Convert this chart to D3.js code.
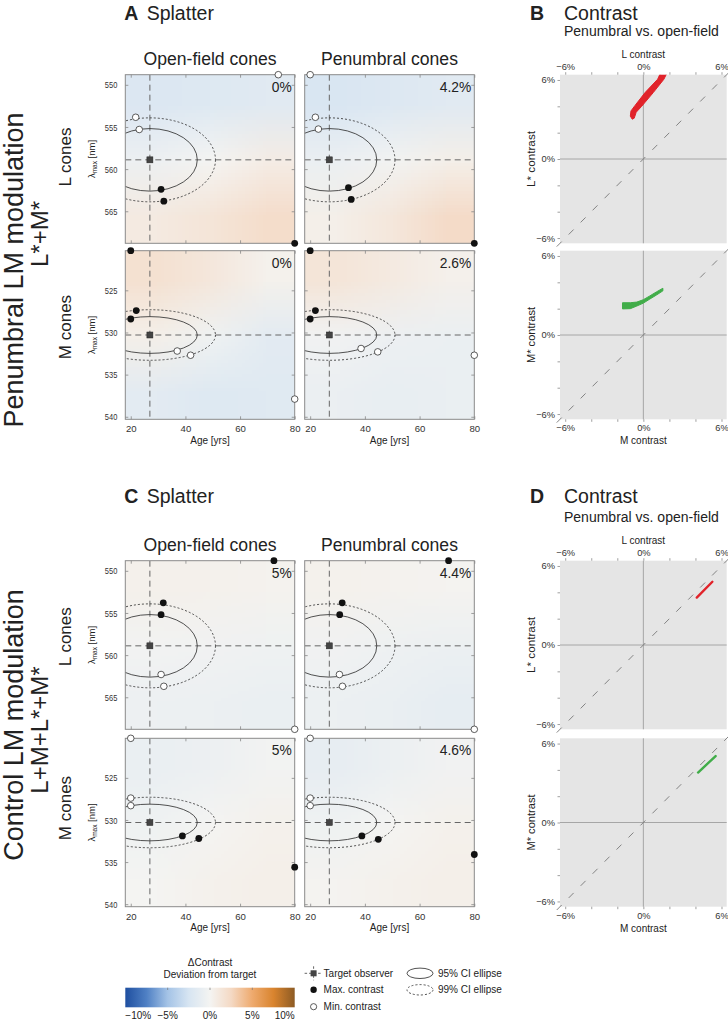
<!DOCTYPE html>
<html><head><meta charset="utf-8">
<script src="https://cdn.jsdelivr.net/npm/d3@7"></script>
<style>
body{margin:0;background:#fff}
svg text{font-family:"Liberation Sans",Arial,Helvetica,sans-serif}
</style>
</head><body>
<script>
// ---------------- DATA ----------------
const ageTicks = [20, 40, 60, 80];
const lTicks = [550, 555, 560, 565];
const mTicks = [525, 530, 535, 540];
const ageDomain = [18, 80];
const lDomain = [548.8, 568.8];
const mDomain = [520.3, 540.3];
const contrastDomain = [-6.4, 6.4];
const contrastTicks = [-6, -4, -2, 0, 2, 4, 6];
const contrastLabelTicks = [-6, 0, 6];
const colorbarTicks = [-10, -5, 0, 5, 10];
const colorStops = [-10, -7.5, -5, -2.5, 0, 2.5, 5, 7.5, 10];
const colorHex = ["#1f4fa0", "#4f80c4", "#a4c3e6", "#d7e5f2", "#f4f4f2", "#f4d9c4", "#eeaa6e", "#d9842e", "#8d5b24"];

const targetAge = 27;
const targetL = 558.9;
const targetM = 530.3;
const ci95 = {age: 17.35, L: 3.71, M: 2.18};
const ci99 = {age: 24.0, L: 4.98, M: 3.0};

// panels: 0 A-L-open, 1 A-L-pen, 2 A-M-open, 3 A-M-pen, 4 C-L-open, 5 C-L-pen, 6 C-M-open, 7 C-M-pen
const panelCone = ["L", "L", "M", "M", "L", "L", "M", "M"];
const pctLabels = ["0%", "4.2%", "0%", "2.6%", "5%", "4.4%", "5%", "4.6%"];
const maxPts = [
  [[31.1, 562.4], [32.1, 563.8], [80, 568.8]],
  [[34.0, 562.2], [35.0, 563.6], [80, 568.8]],
  [[20, 520.3], [22.0, 527.4], [20, 528.4]],
  [[20, 520.3], [21.9, 527.4], [20, 528.4]],
  [[72.4, 548.8], [31.9, 553.8], [31.1, 555.2]],
  [[70.6, 548.8], [31.7, 553.8], [30.8, 555.2]],
  [[38.9, 531.9], [44.9, 532.2], [80, 535.6]],
  [[38.9, 531.9], [44.9, 532.3], [80, 534.1]]
];
const minPts = [
  [[74.0, 548.8], [21.8, 553.85], [23.1, 555.3]],
  [[20, 548.8], [21.9, 553.85], [23.0, 555.25]],
  [[37.0, 532.2], [41.9, 532.7], [80, 537.9]],
  [[38.6, 531.9], [44.7, 532.3], [80, 532.7]],
  [[31.1, 562.3], [32.1, 563.7], [80, 568.8]],
  [[30.7, 562.3], [31.8, 563.7], [80, 568.8]],
  [[20, 520.3], [20, 527.4], [20, 528.3]],
  [[20, 520.3], [20, 527.4], [20, 528.3]]
];
// deviation-from-target grids (rows top->bottom, cols left->right), % contrast
const heatGrids = [
  [[-2.1, -1.9, -1.6], [-0.6, 0.0, 0.7], [0.9, 1.4, 2.1]],
  [[-2.3, -2.0, -1.6], [-0.8, -0.2, 0.5], [0.5, 1.2, 2.3]],
  [[1.8, 1.2, 0.3], [0.5, -0.4, -1.5], [-1.5, -1.9, -1.7]],
  [[1.4, 0.9, 0.4], [-0.3, -0.6, -0.8], [-0.8, -1.0, -0.9]],
  [[0.4, 0.3, 0.2], [-0.2, -0.3, -0.4], [-0.6, -0.7, -0.9]],
  [[0.3, 0.2, 0.1], [-0.3, -0.5, -0.7], [-0.7, -0.9, -1.2]],
  [[-0.9, -0.6, -0.2], [-0.4, 0.0, 0.3], [0.0, 0.3, 0.5]],
  [[-1.1, -0.7, -0.3], [-0.4, 0.0, 0.3], [0.1, 0.3, 0.5]]
];
// contrast scatter regions (open-field contrast %, penumbral contrast %)
const redB_edge1 = [[-1.0, 3.25], [-0.95, 3.65], [-0.65, 4.05], [0.13, 5.04], [1.1, 6.06], [1.35, 6.6]];
const redB_edge2 = [[-0.7, 3.1], [-0.55, 3.55], [-0.13, 4.0], [0.76, 5.04], [1.58, 6.06], [1.85, 6.6]];
const greenB_upper = [[-1.6, 2.45], [-1.0, 2.45], [-0.5, 2.5], [0.0, 2.68], [0.5, 2.97], [1.0, 3.27], [1.5, 3.55]];
const greenB_lower = [[-1.6, 1.98], [-1.0, 2.0], [-0.5, 2.2], [0.0, 2.42], [0.5, 2.73], [1.0, 3.03], [1.5, 3.35]];
const redD = [[4.1, 3.6], [5.3, 4.8]];
const greenD = [[4.2, 3.8], [5.55, 5.05]];

// ---------------- LAYOUT ----------------
const W = 728, H = 1020;
const svg = d3.select("body").append("svg").attr("width", W).attr("height", H);
const colX = [[125.3, 294.7], [304.7, 474.3]];
const sectionRows = [[[74.7, 243.3], [250.7, 419.3]], [[560.7, 729.3], [738.3, 906.7]]];
const cX = [560, 726.7];
const TXT = "#222", TICK = "#888";

const color = d3.scaleLinear().domain(colorStops).range(colorHex).clamp(true);
const fmtC = d => d === 0 ? "0%" : (d < 0 ? "\u2212" + (-d) + "%" : d + "%");
let clipId = 0;

function styleAxis(g, fs) {
  g.attr("font-family", null).attr("font-size", null);
  g.select(".domain").remove();
  g.selectAll(".tick line").attr("stroke", TICK).attr("stroke-width", 0.8);
  g.selectAll(".tick text").attr("fill", "#333").attr("font-size", fs);
}

function splatterPanel(p, x0, x1, y0, y1, showY, showX) {
  const cone = panelCone[p];
  const x = d3.scaleLinear().domain(ageDomain).range([x0, x1]);
  const y = d3.scaleLinear().domain(cone === "L" ? lDomain : mDomain).range([y0, y1]);
  const tgt = cone === "L" ? targetL : targetM;
  const g = svg.append("g");
  const id = "clip" + (clipId++);
  svg.append("clipPath").attr("id", id).append("rect")
    .attr("x", x0).attr("y", y0).attr("width", x1 - x0).attr("height", y1 - y0);

  // heatmap from grid
  const grid = heatGrids[p];
  const cv = document.createElement("canvas");
  cv.width = grid[0].length; cv.height = grid.length;
  const ctx = cv.getContext("2d");
  grid.forEach((row, r) => row.forEach((v, c) => { ctx.fillStyle = color(v); ctx.fillRect(c, r, 1, 1); }));
  g.append("image").attr("href", cv.toDataURL()).attr("x", x0).attr("y", y0)
    .attr("width", x1 - x0).attr("height", y1 - y0).attr("preserveAspectRatio", "none")
    .style("image-rendering", "auto");

  const inner = g.append("g").attr("clip-path", `url(#${id})`);
  inner.append("line").attr("x1", x(targetAge)).attr("x2", x(targetAge)).attr("y1", y0).attr("y2", y1)
    .attr("stroke", "#666").attr("stroke-width", 1).attr("stroke-dasharray", "6,4");
  inner.append("line").attr("x1", x0).attr("x2", x1).attr("y1", y(tgt)).attr("y2", y(tgt))
    .attr("stroke", "#666").attr("stroke-width", 1).attr("stroke-dasharray", "6,4");
  [[ci95, null], [ci99, "2,2"]].forEach(([ci, dash]) => {
    inner.append("ellipse").attr("cx", x(targetAge)).attr("cy", y(tgt))
      .attr("rx", x(targetAge + ci.age) - x(targetAge)).attr("ry", y(tgt + ci[cone]) - y(tgt))
      .attr("fill", "none").attr("stroke", "#333").attr("stroke-width", 0.85)
      .attr("stroke-dasharray", dash);
  });

  g.append("rect").attr("x", x0).attr("y", y0).attr("width", x1 - x0).attr("height", y1 - y0)
    .attr("fill", "none").attr("stroke", "#8a8a8a").attr("stroke-width", 1);

  const ticks = cone === "L" ? lTicks : mTicks;
  const aL = g.append("g").attr("transform", `translate(${x0},0)`)
    .call(d3.axisLeft(y).tickValues(ticks).tickSize(-3).tickPadding(8).tickFormat(showY ? d3.format("d") : ""));
  styleAxis(aL, 9.5);
  if (showY) aL.selectAll(".tick text").attr("textLength", 12.5).attr("lengthAdjust", "spacingAndGlyphs");
  styleAxis(g.append("g").attr("transform", `translate(${x1},0)`)
    .call(d3.axisRight(y).tickValues(ticks).tickSize(-3).tickFormat("")), 9.5);
  styleAxis(g.append("g").attr("transform", `translate(0,${y0})`)
    .call(d3.axisTop(x).tickValues(ageTicks).tickSize(-3).tickFormat("")), 9.5);
  styleAxis(g.append("g").attr("transform", `translate(0,${y1})`)
    .call(d3.axisBottom(x).tickValues(ageTicks).tickSize(-3).tickPadding(6).tickFormat(showX ? d3.format("d") : "")), 9.6);
  if (showX) {
    g.append("text").attr("x", (x0 + x1) / 2).attr("y", y1 + 24.5).attr("text-anchor", "middle")
      .attr("font-size", 10).attr("fill", TXT).text("Age [yrs]");
  }

  // markers
  g.append("rect").attr("x", x(targetAge) - 3).attr("y", y(tgt) - 3).attr("width", 6).attr("height", 6)
    .attr("fill", "#444").attr("stroke", "#222").attr("stroke-width", 0.5);
  g.selectAll(null).data(maxPts[p]).enter().append("circle")
    .attr("cx", d => x(d[0])).attr("cy", d => y(d[1])).attr("r", 3.4).attr("fill", "#111");
  g.selectAll(null).data(minPts[p]).enter().append("circle")
    .attr("cx", d => x(d[0])).attr("cy", d => y(d[1])).attr("r", 3.3).attr("fill", "#fff")
    .attr("stroke", "#333").attr("stroke-width", 0.8);

  g.append("text").attr("x", x1 - 3).attr("y", y0 + 17).attr("text-anchor", "end")
    .attr("font-size", 13.8).attr("fill", TXT).text(pctLabels[p]);
}

function contrastPanel(y0, y1, isTop, xTitle, yTitle, drawMarks) {
  const x = d3.scaleLinear().domain(contrastDomain).range(cX);
  const y = d3.scaleLinear().domain(contrastDomain).range([y1, y0]);
  const g = svg.append("g");
  const id = "clip" + (clipId++);
  svg.append("clipPath").attr("id", id).append("rect")
    .attr("x", cX[0]).attr("y", y0).attr("width", cX[1] - cX[0]).attr("height", y1 - y0);
  g.append("rect").attr("x", cX[0]).attr("y", y0).attr("width", cX[1] - cX[0]).attr("height", y1 - y0)
    .attr("fill", "#e5e5e5");
  g.append("line").attr("x1", x(0)).attr("x2", x(0)).attr("y1", y0).attr("y2", y1)
    .attr("stroke", "#a6a6a6").attr("stroke-width", 1);
  g.append("line").attr("x1", cX[0]).attr("x2", cX[1]).attr("y1", y(0)).attr("y2", y(0))
    .attr("stroke", "#a6a6a6").attr("stroke-width", 1);
  g.append("line").attr("x1", x(-6.65)).attr("y1", y(-6.65)).attr("x2", x(6.65)).attr("y2", y(6.65))
    .attr("stroke", "#777").attr("stroke-width", 0.9).attr("stroke-dasharray", "7,10");
  drawMarks(g.append("g").attr("clip-path", `url(#${id})`), x, y);

  styleAxis(g.append("g").attr("transform", `translate(${cX[0]},0)`)
    .call(d3.axisLeft(y).tickValues(contrastTicks).tickSize(2.5).tickPadding(2.5)
      .tickFormat(d => contrastLabelTicks.includes(d) ? fmtC(d) : "")), 9.3);
  if (isTop) {
    styleAxis(g.append("g").attr("transform", `translate(0,${y0})`)
      .call(d3.axisTop(x).tickValues(contrastTicks).tickSize(2.5).tickPadding(2.5)
        .tickFormat(d => contrastLabelTicks.includes(d) ? fmtC(d) : "")), 9.3);
    g.append("text").attr("x", x(0)).attr("y", y0 - 17).attr("text-anchor", "middle")
      .attr("font-size", 10).attr("fill", TXT).text(xTitle);
  } else {
    styleAxis(g.append("g").attr("transform", `translate(0,${y1})`)
      .call(d3.axisBottom(x).tickValues(contrastTicks).tickSize(2.5).tickPadding(3)
        .tickFormat(d => contrastLabelTicks.includes(d) ? fmtC(d) : "")), 9.3);
    g.append("text").attr("x", x(0)).attr("y", y1 + 24.8).attr("text-anchor", "middle")
      .attr("font-size", 10).attr("fill", TXT).text(xTitle);
  }
  g.append("text").attr("transform", `translate(535,${(y0 + y1) / 2}) rotate(-90)`)
    .attr("text-anchor", "middle").attr("font-size", 10.5).attr("fill", TXT)
    .attr("textLength", 56).attr("lengthAdjust", "spacingAndGlyphs").text(yTitle);
}

function rotText(x, y, size, parts) {
  const t = svg.append("text").attr("transform", `translate(${x},${y}) rotate(-90)`)
    .attr("text-anchor", "middle").attr("font-size", size).attr("fill", TXT);
  parts.forEach(pt => {
    const s = t.append("tspan").text(pt.t);
    if (pt.dy) s.attr("dy", pt.dy);
    if (pt.fs) s.attr("font-size", pt.fs);
  });
  return t;
}

// ---------------- DRAW ----------------
const sectionTitles = [["A", "Splatter", 19.5], ["C", "Splatter", 503]];
const contrastTitles = [["B", "Contrast", 19.5, 35.5], ["D", "Contrast", 503, 522]];
const rowLabelsBig = [["Penumbral LM modulation", 270, [{t: "L*+M*"}], 234],
                      ["Control LM modulation", 725, [{t: "L+M+L*+M*"}], 730]];
const coneLabelY = [[157, 327], [636.7, 808]];

sectionRows.forEach((rows, s) => {
  const top = rows[0][0];
  const tt = svg.append("text").attr("x", 124.3).attr("y", sectionTitles[s][2]).attr("font-size", 19.5).attr("fill", TXT);
  tt.append("tspan").attr("font-weight", "bold").text(sectionTitles[s][0]);
  tt.append("tspan").attr("x", 146.7).text(sectionTitles[s][1]);
  const ct = svg.append("text").attr("x", 530).attr("y", contrastTitles[s][2]).attr("font-size", 19.5).attr("fill", TXT);
  ct.append("tspan").attr("font-weight", "bold").text(contrastTitles[s][0]);
  ct.append("tspan").attr("x", 564).text(contrastTitles[s][1]);
  svg.append("text").attr("x", 564).attr("y", contrastTitles[s][3]).attr("font-size", 14).attr("fill", TXT)
    .text("Penumbral vs. open-field");
  ["Open-field cones", "Penumbral cones"].forEach((c, i) => {
    svg.append("text").attr("x", (colX[i][0] + colX[i][1]) / 2).attr("y", top - 10).attr("text-anchor", "middle")
      .attr("font-size", 17.6).attr("fill", TXT).text(c);
  });
  rotText(23, rowLabelsBig[s][1], 27, [{t: rowLabelsBig[s][0]}]);
  rotText(48, rowLabelsBig[s][3], 24, rowLabelsBig[s][2]);
  ["L cones", "M cones"].forEach((c, r) => {
    rotText(70.5, coneLabelY[s][r], 17, [{t: c}]);
    rotText(94.5, (rows[r][0] + rows[r][1]) / 2, 9.5,
      [{t: "\u03bb"}, {t: "max", dy: 2, fs: 6.5}, {t: " [nm]", dy: -2, fs: 9.5}]);
  });
  rows.forEach((ry, r) => {
    colX.forEach((cx, c) => {
      const p = s * 4 + r * 2 + c;
      splatterPanel(p, cx[0], cx[1], ry[0], ry[1], c === 0, r === 1);
    });
  });
});

const redCol = "#e1232a", greenCol = "#41ad49";
contrastPanel(sectionRows[0][0][0], sectionRows[0][0][1], true, "L contrast", "L* contrast", (g, x, y) => {
  const poly = redB_edge1.concat(redB_edge2.slice().reverse()).concat([[-0.85, 3.02]]);
  g.append("path").attr("d", d3.line().x(d => x(d[0])).y(d => y(d[1])).curve(d3.curveLinearClosed)(poly))
    .attr("fill", redCol).attr("stroke", redCol).attr("stroke-width", 1).attr("stroke-linejoin", "round");
});
contrastPanel(sectionRows[0][1][0], sectionRows[0][1][1], false, "M contrast", "M* contrast", (g, x, y) => {
  const poly = greenB_upper.concat(greenB_lower.slice().reverse());
  g.append("path").attr("d", d3.line().x(d => x(d[0])).y(d => y(d[1])).curve(d3.curveLinearClosed)(poly))
    .attr("fill", greenCol).attr("stroke", greenCol).attr("stroke-width", 1).attr("stroke-linejoin", "round");
});
contrastPanel(sectionRows[1][0][0], sectionRows[1][0][1], true, "L contrast", "L* contrast", (g, x, y) => {
  g.append("path").attr("d", d3.line().x(d => x(d[0])).y(d => y(d[1]))(redD))
    .attr("fill", "none").attr("stroke", redCol).attr("stroke-width", 2.4).attr("stroke-linecap", "round");
});
contrastPanel(sectionRows[1][1][0], sectionRows[1][1][1], false, "M contrast", "M* contrast", (g, x, y) => {
  g.append("path").attr("d", d3.line().x(d => x(d[0])).y(d => y(d[1]))(greenD))
    .attr("fill", "none").attr("stroke", greenCol).attr("stroke-width", 2.4).attr("stroke-linecap", "round");
});

// ---------------- LEGEND ----------------
const cb = d3.scaleLinear().domain([-10, 10]).range([125.3, 294.7]);
const grad = svg.append("defs").append("linearGradient").attr("id", "cbgrad");
colorStops.forEach((v, i) => grad.append("stop").attr("offset", ((v + 10) / 20 * 100) + "%").attr("stop-color", colorHex[i]));
svg.append("rect").attr("x", cb(-10)).attr("y", 987.7).attr("width", cb(10) - cb(-10)).attr("height", 19.6)
  .attr("fill", "url(#cbgrad)");
svg.selectAll(null).data(colorbarTicks.slice(1, -1)).enter().append("line")
  .attr("x1", d => cb(d)).attr("x2", d => cb(d)).attr("y1", 987.7).attr("y2", 990)
  .attr("stroke", "#777").attr("stroke-width", 0.7);
svg.selectAll(null).data(colorbarTicks).enter().append("text")
  .attr("x", d => cb(d)).attr("y", 1018.5)
  .attr("text-anchor", (d, i) => i === 0 ? "start" : (i === colorbarTicks.length - 1 ? "end" : "middle"))
  .attr("font-size", 10).attr("fill", TXT).text(d => fmtC(d));
svg.append("text").attr("x", 210).attr("y", 966).attr("text-anchor", "middle").attr("font-size", 10)
  .attr("fill", TXT).text("\u0394Contrast");
svg.append("text").attr("x", 210).attr("y", 978).attr("text-anchor", "middle").attr("font-size", 10)
  .attr("fill", TXT).text("Deviation from target");

const lgX = 313.6, lgY = [973.3, 989.8, 1006.7];
svg.append("line").attr("x1", lgX - 9).attr("x2", lgX + 9).attr("y1", lgY[0]).attr("y2", lgY[0])
  .attr("stroke", "#666").attr("stroke-dasharray", "2.5,2");
svg.append("line").attr("x1", lgX).attr("x2", lgX).attr("y1", lgY[0] - 7).attr("y2", lgY[0] + 7)
  .attr("stroke", "#666").attr("stroke-dasharray", "2.5,2");
svg.append("rect").attr("x", lgX - 3).attr("y", lgY[0] - 3).attr("width", 6).attr("height", 6).attr("fill", "#444");
svg.append("circle").attr("cx", lgX).attr("cy", lgY[1]).attr("r", 3.2).attr("fill", "#111");
svg.append("circle").attr("cx", lgX).attr("cy", lgY[2]).attr("r", 3.1).attr("fill", "#fff").attr("stroke", "#333").attr("stroke-width", 0.8);
["Target observer", "Max. contrast", "Min. contrast"].forEach((t, i) => {
  svg.append("text").attr("x", lgX + 10).attr("y", lgY[i] + 3.5).attr("font-size", 10).attr("fill", TXT).text(t);
});
const elX = 420;
svg.append("ellipse").attr("cx", elX).attr("cy", lgY[0]).attr("rx", 13).attr("ry", 5.2)
  .attr("fill", "none").attr("stroke", "#333").attr("stroke-width", 0.85);
svg.append("ellipse").attr("cx", elX).attr("cy", lgY[1]).attr("rx", 13).attr("ry", 5.2)
  .attr("fill", "none").attr("stroke", "#333").attr("stroke-width", 0.85).attr("stroke-dasharray", "2,2");
["95% CI ellipse", "99% CI ellipse"].forEach((t, i) => {
  svg.append("text").attr("x", elX + 18).attr("y", lgY[i] + 3.5).attr("font-size", 10).attr("fill", TXT).text(t);
});
</script>
</body></html>
